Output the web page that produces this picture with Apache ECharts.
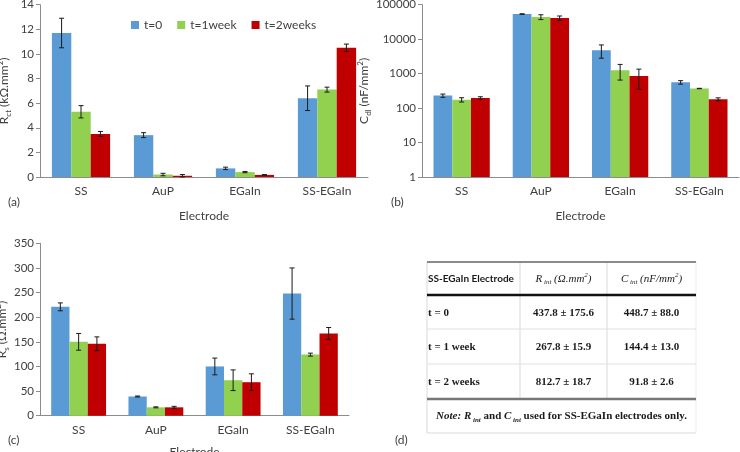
<!DOCTYPE html>
<html><head><meta charset="utf-8">
<script src="https://cdn.jsdelivr.net/npm/echarts@6/dist/echarts.min.js"></script>
<style>html,body{margin:0;padding:0;background:#fff}#c{width:740px;height:452px}</style>
</head><body><div id="c"></div>
<script>
// ---------- data ----------
const categories = ['SS', 'AuP', 'EGaIn', 'SS-EGaIn'];
const seriesNames = ['t=0', 't=1week', 't=2weeks'];

// (a) Rct (kΩ.mm²)
const rct_t0 = [11.7, 3.4, 0.7, 6.4];
const rct_t0_err = [1.2, 0.2, 0.1, 1.0];
const rct_t1 = [5.3, 0.2, 0.4, 7.1];
const rct_t1_err = [0.5, 0.1, 0.05, 0.2];
const rct_t2 = [3.5, 0.1, 0.17, 10.5];
const rct_t2_err = [0.2, 0.1, 0.03, 0.3];

// (b) Cdl (nF/mm²), log axis
const cdl_t0 = [230, 53500, 4800, 560];
const cdl_t0_err = [25, 1000, 2000, 65];
const cdl_t1 = [175, 44000, 1250, 370];
const cdl_t1_err = [25, 7000, 600, 5];
const cdl_t2 = [195, 41000, 850, 180];
const cdl_t2_err = [18, 6000, 500, 18];

// (c) Rs (Ω.mm²)
const rs_t0 = [221, 39, 100, 248];
const rs_t0_err = [8, 1, 17, 52];
const rs_t1 = [150, 17, 72, 124];
const rs_t1_err = [17, 1, 21, 3];
const rs_t2 = [146, 17, 68, 167];
const rs_t2_err = [14, 2, 17, 12];

// (d) table
const tableRowLabels = ['t = 0', 't = 1 week', 't = 2 weeks'];
const rintValues = ['437.8 ± 175.6', '267.8 ± 15.9', '812.7 ± 18.7'];
const cintValues = ['448.7 ± 88.0', '144.4 ± 13.0', '91.8 ± 2.6'];

// ---------- chart ----------
const FONT = 'Lato';
const SERIF = '"Liberation Serif", "Times New Roman", serif';
const COLORS = ['#5B9BD5', '#92D050', '#C00000'];
const GAP = 0.29;
const TXT = '#404040';
const AX = '#8c8c8c';

function barSeries(g, k, data) {
  return {
    type: 'bar', name: seriesNames[k], xAxisIndex: g, yAxisIndex: g, data: data,
    barGap: '0%', barCategoryGap: (GAP * 100) + '%',
    itemStyle: { color: COLORS[k] }, emphasis: { disabled: true }, silent: true
  };
}
function errSeries(g, k, means, errs) {
  return {
    type: 'custom', name: 'err' + g + k, xAxisIndex: g, yAxisIndex: g, z: 10, silent: true,
    encode: { x: 0, y: 1 },
    data: means.map((m, i) => [i, m, errs[i]]),
    renderItem: function (params, api) {
      const i = api.value(0), m = api.value(1), e = api.value(2);
      const band = api.size([1, 1], [i, m])[0];
      const bw = band * (1 - GAP) / 3;
      const cx = api.coord([i, m])[0] + (k - 1) * bw;
      const yTop = api.coord([i, m + e])[1];
      const yBot = api.coord([i, Math.max(m - e, 1e-6)])[1];
      const h = 2.5;
      const st = { stroke: '#1a1a1a', lineWidth: 1 };
      return {
        type: 'group', children: [
          { type: 'line', shape: { x1: cx, y1: yTop, x2: cx, y2: yBot }, style: st },
          { type: 'line', shape: { x1: cx - h, y1: yTop, x2: cx + h, y2: yTop }, style: st },
          { type: 'line', shape: { x1: cx - h, y1: yBot, x2: cx + h, y2: yBot }, style: st }
        ]
      };
    }
  };
}
function xAx(g, gap) {
  return {
    type: 'category', gridIndex: g, data: categories,
    axisLine: { lineStyle: { color: AX } }, axisTick: { show: false },
    axisLabel: { color: TXT, fontSize: 12, fontFamily: FONT, margin: 8 },
    name: 'Electrode', nameLocation: 'middle', nameGap: gap,
    nameTextStyle: { color: TXT, fontSize: 12, fontFamily: FONT }
  };
}
const nameRich = {
  n: { fontSize: 12, fontFamily: FONT, color: TXT, lineHeight: 16 },
  s: { fontSize: 8, fontFamily: FONT, color: TXT, lineHeight: 8, verticalAlign: 'bottom' },
  p: { fontSize: 8, fontFamily: FONT, color: TXT, lineHeight: 8, verticalAlign: 'top' }
};
function yAx(g, extra, name, gap) {
  return Object.assign({
    gridIndex: g,
    axisLine: { show: true, lineStyle: { color: AX } },
    axisTick: { show: true, length: 4, lineStyle: { color: AX } },
    splitLine: { show: false },
    axisLabel: { color: TXT, fontSize: 11.5, fontFamily: FONT, margin: 6,
      formatter: v => String(Math.round(v)) },
    name: name, nameLocation: 'middle', nameGap: gap, nameRotate: 90,
    nameTextStyle: { rich: nameRich }
  }, extra);
}

const chart = echarts.init(document.getElementById('c'), null, { renderer: 'canvas' });

const graphics = [];
function label(txt, x, y) {
  graphics.push({ type: 'text', x: x, y: y, style: { text: txt, font: '12px ' + FONT, fill: TXT,
    textAlign: 'left', textVerticalAlign: 'middle', align: 'left', verticalAlign: 'middle' } });
}
label('(a)', 8, 202);
label('(b)', 391, 202);
label('(c)', 8, 440);
label('(d)', 395, 440);

// table
const TL = 427, TR = 696, C1 = 520, C2 = 607;
const yTop = 262, yHead = 295, yR1 = 329, yR2 = 364, yBot = 399, yNote = 433;
function line(x1, y1, x2, y2, color, w) {
  graphics.push({ type: 'line', shape: { x1, y1, x2, y2 }, style: { stroke: color, lineWidth: w } });
}
line(TL, yTop, TL, yNote, '#d9d9d9', 1);
line(TR, yTop, TR, yNote, '#ececec', 1);
line(C1, yTop, C1, yBot, '#d9d9d9', 1);
line(C2, yTop, C2, yBot, '#d9d9d9', 1);
line(TL, yR1, TR, yR1, '#e0e0e0', 1);
line(TL, yR2, TR, yR2, '#e0e0e0', 1);
line(TL, yNote, TR, yNote, '#d9d9d9', 1);
line(TL, yTop, TR, yTop, '#8a8a8a', 2);
line(TL, yHead, TR, yHead, '#111', 2.5);
line(TL, yBot, TR, yBot, '#777', 2.5);

function txt(text, x, y, align, font, rich) {
  const st = { text: text, font: font, fill: '#1a1a1a', textAlign: align, align: align,
    textVerticalAlign: 'middle', verticalAlign: 'middle' };
  if (rich) st.rich = rich;
  graphics.push({ type: 'text', x: x, y: y, style: st });
}
const serifRich = {
  i: { fontFamily: SERIF, fontStyle: 'italic', fontSize: 11, fill: '#1a1a1a', color: '#1a1a1a', lineHeight: 14 },
  s: { fontFamily: SERIF, fontStyle: 'italic', fontSize: 7, color: '#1a1a1a', lineHeight: 7, verticalAlign: 'bottom' },
  p: { fontFamily: SERIF, fontStyle: 'italic', fontSize: 7, color: '#1a1a1a', lineHeight: 7, verticalAlign: 'top' },
  b: { fontFamily: SERIF, fontWeight: 'bold', fontSize: 11, color: '#1a1a1a', lineHeight: 14 },
  bi: { fontFamily: SERIF, fontWeight: 'bold', fontStyle: 'italic', fontSize: 11, color: '#1a1a1a', lineHeight: 14 },
  bs: { fontFamily: SERIF, fontWeight: 'bold', fontStyle: 'italic', fontSize: 7, color: '#1a1a1a', lineHeight: 7, verticalAlign: 'bottom' }
};
const yHeadText = 279, rowY = [313, 347.5, 382], yNoteText = 416.5;
txt('SS-EGaIn Electrode', TL + 1, yHeadText, 'left', 'bold 10px ' + FONT);
txt('{i|R}{s| int}{i| (Ω.mm}{p|2}{i|)}', (C1 + C2) / 2, yHeadText, 'center', '11px ' + SERIF, serifRich);
txt('{i|C}{s| int}{i| (nF/mm}{p|2}{i|)}', (C2 + TR) / 2, yHeadText, 'center', '11px ' + SERIF, serifRich);
tableRowLabels.forEach((r, i) => {
  txt(r, TL + 1, rowY[i], 'left', 'bold 11px ' + SERIF);
  txt(rintValues[i], (C1 + C2) / 2, rowY[i], 'center', 'bold 11px ' + SERIF);
  txt(cintValues[i], (C2 + TR) / 2, rowY[i], 'center', 'bold 11px ' + SERIF);
});
txt('{bi|Note: R}{bs| int}{b| and }{bi|C}{bs| int}{b| used for SS-EGaIn electrodes only.}',
  (TL + TR) / 2, yNoteText, 'center', 'bold 11px ' + SERIF, serifRich);

const option = {
  animation: false,
  backgroundColor: '#fff',
  textStyle: { fontFamily: FONT },
  legend: {
    data: seriesNames, left: 126, top: 14, itemWidth: 8, itemHeight: 8, itemGap: 15,
    icon: 'rect', textStyle: { color: TXT, fontSize: 12, fontFamily: FONT }, selectedMode: false
  },
  grid: [
    { left: 40, top: 4.7, width: 328, height: 172.3, outerBoundsMode: 'none' },
    { left: 422, top: 4.7, width: 317, height: 172.3, outerBoundsMode: 'none' },
    { left: 40, top: 243.3, width: 309, height: 172.4, outerBoundsMode: 'none' }
  ],
  xAxis: [xAx(0, 33), xAx(1, 33), xAx(2, 30)],
  yAxis: [
    yAx(0, { type: 'value', min: 0, max: 14, interval: 2 }, '{n|R}{s|ct}{n| (kΩ.mm}{p|2}{n|)}', 28),
    yAx(1, { type: 'log', logBase: 10, min: 1, max: 100000 }, '{n|C}{s|dl}{n| (nF/mm}{p|2}{n|)}', 41),
    yAx(2, { type: 'value', min: 0, max: 350, interval: 50 }, '{n|R}{s|s}{n| (Ω.mm}{p|2}{n|)}', 30)
  ],
  series: [
    barSeries(0, 0, rct_t0), barSeries(0, 1, rct_t1), barSeries(0, 2, rct_t2),
    errSeries(0, 0, rct_t0, rct_t0_err), errSeries(0, 1, rct_t1, rct_t1_err), errSeries(0, 2, rct_t2, rct_t2_err),
    barSeries(1, 0, cdl_t0), barSeries(1, 1, cdl_t1), barSeries(1, 2, cdl_t2),
    errSeries(1, 0, cdl_t0, cdl_t0_err), errSeries(1, 1, cdl_t1, cdl_t1_err), errSeries(1, 2, cdl_t2, cdl_t2_err),
    barSeries(2, 0, rs_t0), barSeries(2, 1, rs_t1), barSeries(2, 2, rs_t2),
    errSeries(2, 0, rs_t0, rs_t0_err), errSeries(2, 1, rs_t1, rs_t1_err), errSeries(2, 2, rs_t2, rs_t2_err)
  ],
  graphic: graphics
};
chart.setOption(option);
</script>
</body></html>
